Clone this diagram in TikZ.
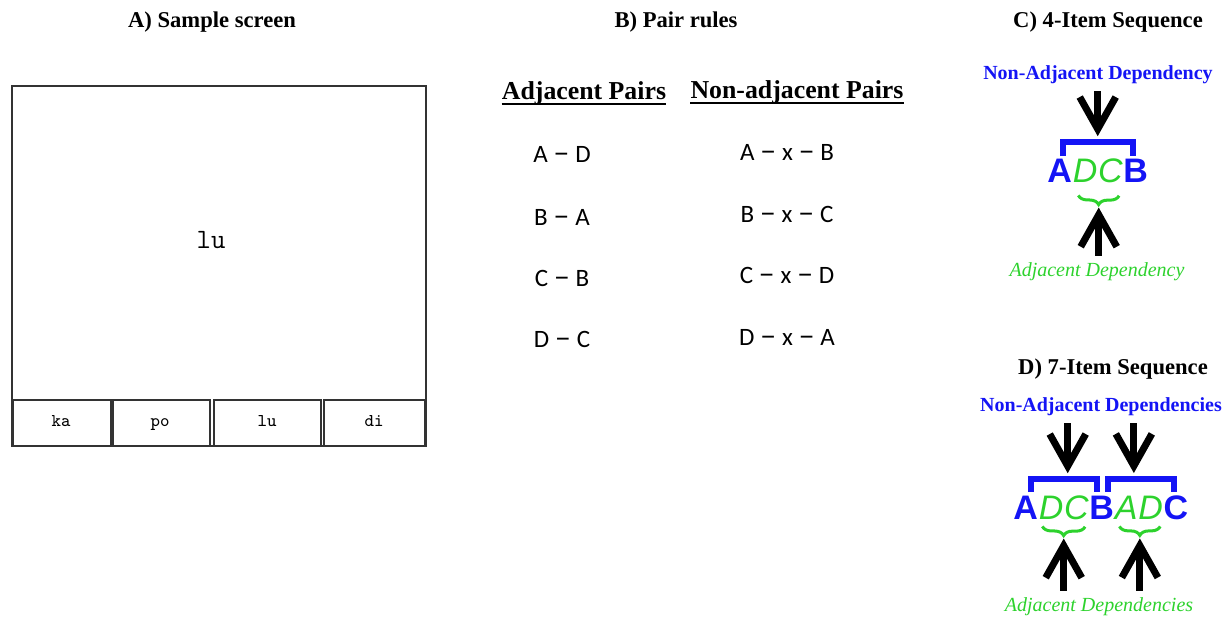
\documentclass[tikz,border=0pt]{standalone}
\usepackage{fontspec}
\usepackage{graphicx}
\setmainfont{Liberation Serif}
\newfontfamily\calibfont{Carlito}
\newfontfamily\arialfont{Liberation Sans}
\usepackage{tikz}
\usetikzlibrary{calc,positioning}
\usetikzlibrary{arrows.meta,decorations.pathreplacing}

\definecolor{depblue}{RGB}{20,20,245}
\definecolor{depgreen}{RGB}{45,210,45}

\newcommand{\pdash}{\scalebox{1.3}[1.2]{\textendash}}

\tikzset{
	ttl/.style={font=\bfseries\fontsize{11.3}{13}\selectfont},
	hdr/.style={font=\bfseries\fontsize{12.9}{15}\selectfont, inner sep=0pt, anchor=base},
	pairtxt/.style={font=\calibfont\fontsize{12.5}{15}\selectfont},
	btnlbl/.style={font=\ttfamily\fontsize{9}{11}\selectfont, anchor=base},
	scr/.style={draw=black!80, line width=0.8pt},
	nadlbl/.style={font=\bfseries\fontsize{10}{12}\selectfont, text=depblue},
	adjlbl/.style={font=\itshape\fontsize{10}{12}\selectfont, text=depgreen},
	seqbold/.style={font=\arialfont\bfseries\fontsize{17}{20}\selectfont, text=depblue, inner sep=0pt},
	seqital/.style={font=\arialfont\itshape\fontsize{17}{20}\selectfont, text=depgreen, inner sep=0pt},
	bigarrow/.style={line width=3.5pt, -{Straight Barb[length=16pt,width=18pt]}},
	brk/.style={draw=depblue, line width=3pt},
	adjbrace/.style={draw=depgreen, line width=1.5pt, decorate, decoration={brace, mirror, amplitude=4.5pt}}
}

\begin{document}
\begin{tikzpicture}[x=0.5pt, y=-0.5pt]
	\useasboundingbox (0,0) rectangle (1230,619);
	%\draw[color=gray,step=10, help lines,opacity=0.3] (0,0) grid (1230,619); %help grid
	%% A) sample screen
	\node[ttl] (ttlA) at (212,22) {A) Sample screen};
	\draw[scr] (12,86) rectangle (426,446);
	\draw[scr] (13,400) rectangle (111,446);
	\draw[scr] (113,400) rectangle (210,446);
	\draw[scr] (214,400) rectangle (321,446);
	\draw[scr] (324,400) rectangle (425,446);
	\node[font=\ttfamily\fontsize{14}{16}\selectfont, anchor=base] (word) at (211,249) {lu};
	\node[btnlbl] (ka) at (61,427) {ka};
	\node[btnlbl] (po) at (160,427) {po};
	\node[btnlbl] (lub) at (267,427) {lu};
	\node[btnlbl] (di) at (374,427) {di};
	%% B) pair rules
	\node[ttl] (ttlB) at (676,22) {B) Pair rules};
	\node[hdr] (adjH) at (584,100) {Adjacent Pairs};
	\node[hdr] (nadH) at (797,99) {Non-adjacent Pairs};
	\draw[line width=1pt] ([yshift=-2.2pt]adjH.base west) -- ([yshift=-2.2pt]adjH.base east);
	\draw[line width=1pt] ([yshift=-2.2pt]nadH.base west) -- ([yshift=-2.2pt]nadH.base east);
	% adjacent column
	\node[pairtxt] (p1) at (562,154) {A \pdash{} D};
	\node[pairtxt] (p2) at (562,217) {B \pdash{} A};
	\node[pairtxt] (p3) at (562,278) {C \pdash{} B};
	\node[pairtxt] (p4) at (562,339) {D \pdash{} C};
	% non-adjacent column
	\node[pairtxt] (q1) at (787,152) {A \pdash{} x \pdash{} B};
	\node[pairtxt] (q2) at (787,214) {B \pdash{} x \pdash{} C};
	\node[pairtxt] (q3) at (787,275) {C \pdash{} x \pdash{} D};
	\node[pairtxt] (q4) at (787,337) {D \pdash{} x \pdash{} A};
	%% C) 4-item sequence
	\node[ttl] (ttlC) at (1108,22) {C) 4-Item Sequence};
	\node[nadlbl] (nadC) at (1098,75) {Non-Adjacent Dependency};
	\node[seqbold, anchor=base west] (c1) at (1047,183) {A};
	\node[seqital, base right=0pt of c1] (c2) {D};
	\node[seqital, base right=0pt of c2] (c3) {C};
	\node[seqbold, base right=0pt of c3] (c4) {B};
	\coordinate (cl) at ($(c1.north)+(3,-3)$);
	\coordinate (cr) at ($(c4.north)+(-3,-3)$);
	\draw[brk] (cl) -- ++(0,-14) -| (cr);
	\coordinate (brC) at ($(cl)!0.5!(cr)+(0,-14)$);
	\draw[bigarrow, shorten >=3pt] (nadC.south -| brC) -- (brC);
	\coordinate (bC1) at ($(c2.south west)+(6,12)$);
	\coordinate (bC2) at ($(c3.south east)+(-4,12)$);
	\draw[adjbrace] (bC1) -- (bC2);
	\coordinate (tipC) at ($(bC1)!0.5!(bC2)+(0,12)$);
	\node[adjlbl] (adjC) at (1097,272) {Adjacent Dependency};
	\draw[bigarrow] (adjC.north -| tipC) -- (tipC);
	%% D) 7-item sequence
	\node[ttl] (ttlD) at (1113,369) {D) 7-Item Sequence};
	\node[nadlbl] (nadD) at (1101,407) {Non-Adjacent Dependencies};
	\node[seqbold, anchor=base west] (d1) at (1013,519) {A};
	\node[seqital, base right=0pt of d1] (d2) {D};
	\node[seqital, base right=0pt of d2] (d3) {C};
	\node[seqbold, base right=0pt of d3] (d4) {B};
	\node[seqital, base right=0pt of d4] (d5) {A};
	\node[seqital, base right=0pt of d5] (d6) {D};
	\node[seqbold, base right=0pt of d6] (d7) {C};
	% brackets
	\coordinate (dl1) at ($(d1.north)+(5,-3)$);
	\coordinate (dr1) at ($(d4.north)+(-5,-3)$);
	\coordinate (dl2) at ($(d4.north)+(6,-3)$);
	\coordinate (dr2) at ($(d7.north)+(-2,-3)$);
	\draw[brk] (dl1) -- ++(0,-13) -| (dr1);
	\draw[brk] (dl2) -- ++(0,-13) -| (dr2);
	\coordinate (brD1) at ($(dl1)!0.5!(dr1)+(4,-13)$);
	\coordinate (brD2) at ($(dl2)!0.5!(dr2)+(-7,-13)$);
	\draw[bigarrow, shorten >=3pt] (nadD.south -| brD1) -- (brD1);
	\draw[bigarrow, shorten >=3pt] (nadD.south -| brD2) -- (brD2);
	% braces
	\coordinate (bD1) at ($(d2.south west)+(4,7)$);
	\coordinate (bD2) at ($(d3.south east)+(-4,7)$);
	\coordinate (bD3) at ($(d5.south west)+(5,7)$);
	\coordinate (bD4) at ($(d6.south east)+(-3,7)$);
	\draw[adjbrace] (bD1) -- (bD2);
	\draw[adjbrace] (bD3) -- (bD4);
	\coordinate (tipD1) at ($(bD1)!0.5!(bD2)+(0,12)$);
	\coordinate (tipD2) at ($(bD3)!0.5!(bD4)+(0,12)$);
	\node[adjlbl] (adjD) at (1099,607) {Adjacent Dependencies};
	\draw[bigarrow] (adjD.north -| tipD1) -- (tipD1);
	\draw[bigarrow] (adjD.north -| tipD2) -- (tipD2);
\end{tikzpicture}
\end{document}
